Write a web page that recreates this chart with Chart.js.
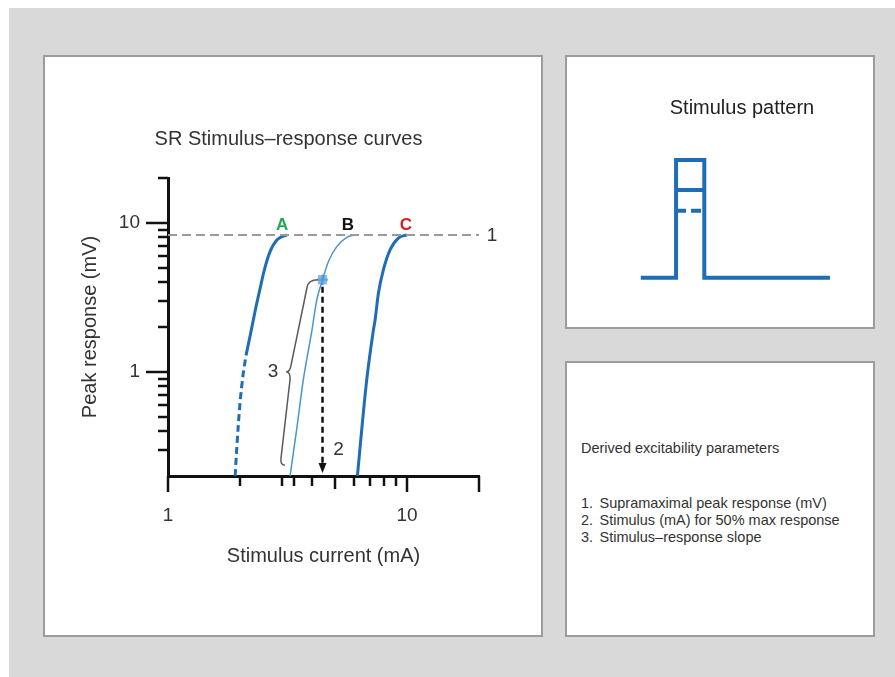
<!DOCTYPE html>
<html>
<head>
<meta charset="utf-8">
<script src="https://cdn.jsdelivr.net/npm/chart.js@4.4.1/dist/chart.umd.min.js"></script>
<style>
  body { margin: 0; width: 895px; height: 677px; background: #fff; position: relative; overflow: hidden;
         font-family: "Liberation Sans", Arial, sans-serif; color: #333; }
  .page { position: absolute; left: 9px; top: 8px; right: 0; bottom: 0; background: #d9d9d9; }
  .panel { position: absolute; background: #fff; border: 2px solid #9c9c9c; box-sizing: border-box; }
  #srPanel { left: 43px; top: 55px; width: 500px; height: 582px; }
  #patternPanel { left: 565px; top: 55px; width: 310px; height: 274px; }
  #paramPanel { left: 565px; top: 361px; width: 310px; height: 276px; }
  .panel canvas { position: absolute; left: 0; top: 0; }
  .pattern-title { position: absolute; left: 75px; top: 38px; width: 200px; text-align: center;
                   font-size: 20px; line-height: 24px; color: #222; }
  .params { position: absolute; left: 14px; top: 77px; font-size: 14.5px; line-height: 17px; color: #333; white-space: nowrap; }
  .params ol { list-style: none; margin: 38px 0 0 0; padding: 0; }
  .params .n { display: inline-block; width: 18.5px; }
</style>
</head>
<body>
<div class="page"></div>
<div class="panel" id="srPanel"><canvas id="srChart" width="496" height="578"></canvas></div>
<div class="panel" id="patternPanel">
  <canvas id="patternChart" width="306" height="270"></canvas>
  <div class="pattern-title">Stimulus pattern</div>
</div>
<div class="panel" id="paramPanel">
  <div class="params">
    <div>Derived excitability parameters</div>
    <ol id="paramList"></ol>
  </div>
</div>
<script>
const FONT = "'Liberation Sans', Arial, sans-serif";

// axes
const X_TICKS = [1, 2, 3, 3.35, 4, 5, 6, 7, 8, 9, 10, 20];
const X_LONG = [1, 10, 20];
const X_MID = [5];
const Y_TICKS = [0.3, 0.4, 0.5, 0.6, 0.7, 0.8, 0.9, 1, 2, 3, 4, 5, 6, 7, 8, 9, 10, 20];
const Y_LONG = [1, 10];
const LABELED = [1, 10];

// stimulus-response curves (mA, mV)
const A_DASH_MA = [1.91, 1.94, 2.0, 2.06, 2.12];
const A_DASH_MV = [0.2, 0.31, 0.61, 0.95, 1.29];
const A_MA = [2.12, 2.21, 2.31, 2.42, 2.53, 2.67, 2.86, 3.14];
const A_MV = [1.29, 1.77, 2.52, 3.54, 4.83, 6.38, 7.69, 8.3];
const B_MA = [3.24, 3.45, 3.68, 4.0, 4.19, 4.43, 4.69, 5.08, 5.6, 6.06];
const B_MV = [0.2, 0.406, 0.88, 1.9, 3.03, 4.15, 5.5, 6.93, 8.0, 8.3];
const C_MA = [6.2, 6.46, 6.78, 7.23, 7.35, 7.59, 7.96, 8.49, 9.2, 10];
const C_MV = [0.2, 0.406, 0.88, 1.9, 2.23, 3.37, 4.83, 6.58, 7.9, 8.3];

const SUPRA_MV = 8.3;
const HALF_MA = 4.43;
const HALF_MV = 4.15;

const CURVE_NAMES = ["A", "B", "C"];
const CURVE_NAME_MA = [3.0, 5.66, 9.9];
const CURVE_NAME_MV = 9.7;
const CURVE_NAME_COLORS = ["#1faa50", "#111111", "#d81e1e"];

// brace "3": top, tip, bottom (mA, mV)
const BRACE_MA = [4.24, 3.12, 2.97];
const BRACE_MV = [4.15, 1.0, 0.24];

// stimulus pattern (time, level)
const PULSE_T = [0, 1, 1, 1.8, 1.8, 5.36];
const PULSE_LEVEL = [0, 0, 1, 1, 0, 0];
const MID_LEVEL = 0.745;
const LOW_LEVEL = 0.569;
const PULSE_ON = 1;
const PULSE_OFF = 1.8;

const PARAMS = [
  "Supramaximal peak response (mV)",
  "Stimulus (mA) for 50% max response",
  "Stimulus\u2013response slope"
];

const BLUE = "#1f6db4";
const LIGHT_BLUE = "#4a94d0";

const zip = (xs, ys) => xs.map((x, i) => ({ x, y: ys[i] }));

document.getElementById("paramList").innerHTML = PARAMS.map((p, i) =>
  `<li><span class="n">${i + 1}.</span>${p}</li>`).join("");

const curve = (data, color, width, dash) => ({
  data,
  showLine: true,
  borderColor: color,
  borderWidth: width,
  borderDash: dash || [],
  pointRadius: 0,
  cubicInterpolationMode: "monotone",
  fill: false
});

const annotate = {
  id: "annotate",
  afterDraw(chart) {
    const { ctx, chartArea: area, scales: { x, y } } = chart;
    ctx.save();

    // axis ticks of different lengths
    ctx.strokeStyle = "#111";
    ctx.lineWidth = 2.5;
    X_TICKS.forEach((v) => {
      const px = Math.round(x.getPixelForValue(v));
      const len = X_LONG.includes(v) ? 16 : X_MID.includes(v) ? 13 : 10;
      ctx.beginPath();
      ctx.moveTo(px, area.bottom);
      ctx.lineTo(px, area.bottom + len);
      ctx.stroke();
    });
    Y_TICKS.forEach((v) => {
      const py = Math.round(y.getPixelForValue(v));
      const len = Y_LONG.includes(v) ? 22 : 10;
      ctx.beginPath();
      ctx.moveTo(area.left - len, py);
      ctx.lineTo(area.left, py);
      ctx.stroke();
    });

    // chart title
    ctx.fillStyle = "#333";
    ctx.font = `20px ${FONT}`;
    ctx.textAlign = "center";
    ctx.textBaseline = "middle";
    ctx.fillText("SR Stimulus\u2013response curves", area.left + 120.5, area.top - 39);

    // curve names
    ctx.font = `bold 17px ${FONT}`;
    CURVE_NAMES.forEach((n, i) => {
      ctx.fillStyle = CURVE_NAME_COLORS[i];
      ctx.fillText(n, x.getPixelForValue(CURVE_NAME_MA[i]), y.getPixelForValue(CURVE_NAME_MV));
    });

    // numbered callouts
    ctx.fillStyle = "#333";
    ctx.font = `19px ${FONT}`;
    ctx.fillText("1", x.getPixelForValue(20) + 13, y.getPixelForValue(SUPRA_MV) + 1);
    ctx.fillText("2", x.getPixelForValue(HALF_MA) + 16, y.getPixelForValue(0.3));

    // arrow from half-max point to the axis
    const ax = x.getPixelForValue(HALF_MA);
    const ay0 = y.getPixelForValue(HALF_MV) + 7;
    const ay1 = area.bottom - 3;
    ctx.strokeStyle = "#111";
    ctx.lineWidth = 2.5;
    ctx.setLineDash([6, 4]);
    ctx.beginPath();
    ctx.moveTo(ax, ay0);
    ctx.lineTo(ax, ay1 - 8);
    ctx.stroke();
    ctx.setLineDash([]);
    ctx.fillStyle = "#111";
    ctx.beginPath();
    ctx.moveTo(ax - 4, ay1 - 10);
    ctx.lineTo(ax + 4, ay1 - 10);
    ctx.lineTo(ax, ay1);
    ctx.closePath();
    ctx.fill();

    // brace
    const top = { x: x.getPixelForValue(BRACE_MA[0]), y: y.getPixelForValue(BRACE_MV[0]) };
    const tip = { x: x.getPixelForValue(BRACE_MA[1]), y: y.getPixelForValue(BRACE_MV[1]) };
    const bot = { x: x.getPixelForValue(BRACE_MA[2]), y: y.getPixelForValue(BRACE_MV[2]) };
    ctx.strokeStyle = "#5a5a5a";
    ctx.lineWidth = 1.5;
    ctx.beginPath();
    ctx.moveTo(top.x, top.y);
    ctx.quadraticCurveTo(top.x - 10, top.y, top.x - 11, top.y + 8);
    ctx.lineTo(tip.x + 5, tip.y - 7);
    ctx.quadraticCurveTo(tip.x + 4, tip.y, tip.x, tip.y);
    ctx.quadraticCurveTo(tip.x + 4, tip.y, tip.x + 4, tip.y + 7);
    ctx.lineTo(bot.x, bot.y - 6);
    ctx.quadraticCurveTo(bot.x - 1, bot.y + 1, bot.x + 4, bot.y + 1);
    ctx.stroke();
    ctx.fillStyle = "#333";
    ctx.font = `19px ${FONT}`;
    ctx.fillText("3", tip.x - 13, tip.y);

    ctx.restore();
  }
};

new Chart(document.getElementById("srChart"), {
  type: "scatter",
  data: {
    datasets: [
      curve([{ x: 1, y: SUPRA_MV }, { x: 20, y: SUPRA_MV }], "#9b9b9b", 2, [9, 5]),
      curve(zip(A_DASH_MA, A_DASH_MV), BLUE, 3, [7, 4]),
      curve(zip(A_MA, A_MV), BLUE, 3),
      curve(zip(B_MA, B_MV), LIGHT_BLUE, 1.5),
      curve(zip(C_MA, C_MV), BLUE, 3),
      {
        data: [{ x: HALF_MA, y: HALF_MV }],
        pointStyle: "rect",
        pointRadius: 6.5,
        pointBackgroundColor: "rgba(110, 172, 228, 0.85)",
        pointBorderWidth: 0
      },
      {
        data: [{ x: HALF_MA, y: HALF_MV }],
        pointStyle: "cross",
        pointRadius: 5,
        pointBorderColor: "#1862ad",
        pointBorderWidth: 2
      }
    ]
  },
  options: {
    responsive: false,
    animation: false,
    layout: { padding: { top: 121, right: 62, left: 0, bottom: 0 } },
    plugins: { legend: { display: false }, tooltip: { enabled: false } },
    scales: {
      x: {
        type: "logarithmic",
        min: 1,
        max: 20,
        afterBuildTicks: (s) => { s.ticks = X_TICKS.map((v) => ({ value: v })); },
        afterFit: (s) => { s.height = 159; },
        grid: { display: false, drawTicks: false },
        border: { display: true, color: "#111", width: 3 },
        ticks: {
          autoSkip: false,
          maxRotation: 0,
          padding: 28,
          color: "#333",
          font: { family: FONT, size: 19 },
          callback: (v) => (LABELED.includes(v) ? String(v) : "")
        },
        title: {
          display: true,
          text: "Stimulus current (mA)",
          color: "#333",
          font: { family: FONT, size: 20 },
          padding: { top: 0, bottom: 67 }
        }
      },
      y: {
        type: "logarithmic",
        min: 0.2,
        max: 20,
        afterBuildTicks: (s) => { s.ticks = Y_TICKS.map((v) => ({ value: v })); },
        afterFit: (s) => { s.width = 123; },
        grid: { display: false, drawTicks: false },
        border: { display: true, color: "#111", width: 3 },
        ticks: {
          autoSkip: false,
          padding: 28,
          color: "#333",
          font: { family: FONT, size: 19 },
          callback: (v) => (LABELED.includes(v) ? String(v) : "")
        },
        title: {
          display: true,
          text: "Peak response (mV)",
          color: "#333",
          font: { family: FONT, size: 20 },
          padding: { top: 33, bottom: 0 }
        }
      }
    }
  },
  plugins: [annotate]
});

const pulseLine = (data, dash) => ({
  data,
  showLine: true,
  borderColor: BLUE,
  borderWidth: 4,
  borderDash: dash || [],
  borderJoinStyle: "miter",
  borderCapStyle: "butt",
  pointRadius: 0,
  tension: 0
});

new Chart(document.getElementById("patternChart"), {
  type: "scatter",
  data: {
    datasets: [
      pulseLine(zip(PULSE_T, PULSE_LEVEL)),
      pulseLine([{ x: PULSE_ON, y: MID_LEVEL }, { x: PULSE_OFF, y: MID_LEVEL }]),
      pulseLine([{ x: PULSE_ON, y: LOW_LEVEL }, { x: PULSE_OFF, y: LOW_LEVEL }], [10, 5])
    ]
  },
  options: {
    responsive: false,
    animation: false,
    layout: { padding: 0 },
    plugins: { legend: { display: false }, tooltip: { enabled: false } },
    scales: {
      x: { type: "linear", min: -2.09, max: 6.58, display: false },
      y: { type: "linear", min: -0.419, max: 1.875, display: false }
    }
  }
});
</script>
</body>
</html>
